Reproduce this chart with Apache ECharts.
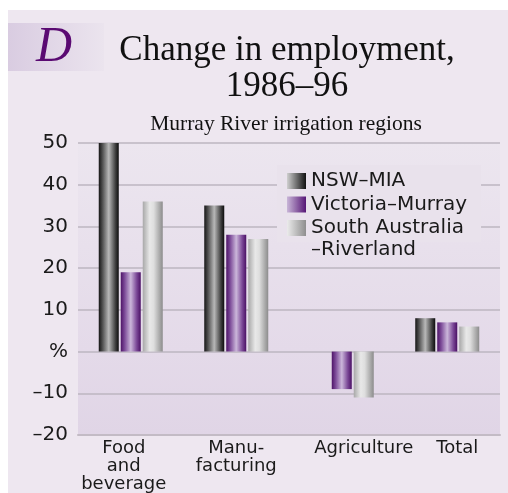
<!DOCTYPE html>
<html>
<head>
<meta charset="utf-8">
<script src="https://cdn.jsdelivr.net/npm/echarts@6/dist/echarts.min.js"></script>
<style>
  body { margin: 0; background: #fff; }
  #wrap { position: relative; width: 508px; height: 493px; }
  #panel { position: absolute; left: 8px; top: 10px; width: 500px; height: 483px; background: #EEE7F0; }
  #myChart { position: absolute; left: 0; top: 0; width: 508px; height: 493px; }
</style>
</head>
<body>
<div id="wrap">
  <div id="panel"></div>
  <div id="myChart"></div>
</div>
<script>
// data
const categories = ["Food\nand\nbeverage", "Manu-\nfacturing", "Agriculture", "Total"];
const nswMia = [50, 35, null, 8];
const victoriaMurray = [19, 28, -9, 7];
const saRiverland = [36, 27, -11, 6];
const seriesNames = ["NSW–MIA", "Victoria–Murray", "South Australia–Riverland"];

// labels in the original are not quite centred under their groups
const labelPadding = [[0, 14, 0, 0], [0, 0, 0, 0], [0, 0, 0, 44], [0, 0, 0, 20]];

const sansFont = "DejaVu Sans";
const serifFont = "Liberation Serif";

function grad(x2, y2, stops) {
  return new echarts.graphic.LinearGradient(0, 0, x2, y2,
    stops.map(function (c) { return { offset: c[0], color: c[1] }; }));
}

// bar fills (rounded cylinder look)
const barFills = [
  grad(1, 0, [[0, "#161616"], [0.15, "#444"], [0.5, "#b8b8b8"], [0.85, "#3a3a3a"], [1, "#0c0c0c"]]),
  grad(1, 0, [[0, "#4e1468"], [0.2, "#7d4c99"], [0.5, "#cbb6da"], [0.8, "#7a4796"], [1, "#4a1064"]]),
  grad(1, 0, [[0, "#a8a8a8"], [0.35, "#e8e8e8"], [0.55, "#dedede"], [1, "#8c8c8c"]])
];
// legend swatches go light to dark
const legendFills = [
  grad(1, 0, [[0, "#cfcfcf"], [1, "#111"]]),
  grad(1, 0, [[0, "#c9b6d8"], [1, "#561676"]]),
  grad(1, 0, [[0, "#ebebeb"], [1, "#8e8e8e"]])
];

let myChart = echarts.init(document.getElementById("myChart"));

myChart.setOption({
  animation: false,
  title: [
    {
      text: "Change in employment,\n1986–96",
      left: 287,
      top: 33,
      padding: 0,
      textAlign: "center",
      textStyle: { fontFamily: serifFont, fontSize: 35, lineHeight: 36, fontWeight: "normal", color: "#111" }
    },
    {
      text: "Murray River irrigation regions",
      left: 286,
      top: 113,
      padding: 0,
      textAlign: "center",
      textStyle: { fontFamily: serifFont, fontSize: 21.5, lineHeight: 22, fontWeight: "normal", color: "#111" }
    },
    {
      text: "D",
      left: 54,
      top: 23,
      padding: 0,
      textAlign: "center",
      textStyle: { fontFamily: serifFont, fontSize: 50, lineHeight: 50, fontStyle: "italic", fontWeight: "normal", color: "#5A0A72" }
    }
  ],
  graphic: [
    {
      type: "rect",
      z: -1,
      shape: { x: 8, y: 23, width: 96, height: 48 },
      style: { fill: grad(1, 0, [[0, "#D9CCE1"], [1, "#EBE4EE"]]) }
    },
    {
      type: "text",
      z: 10,
      style: { x: 311, y: 250, text: "–Riverland", font: "20px " + sansFont, fill: "#1a1a1a", verticalAlign: "middle" }
    }
  ],
  legend: {
    orient: "vertical",
    left: 277,
    top: 165,
    padding: [6, 14, 4, 10],
    itemWidth: 19,
    itemHeight: 16,
    itemGap: 3.5,
    backgroundColor: "#E9E2EC",
    textStyle: { fontFamily: sansFont, fontSize: 20, lineHeight: 20, color: "#1a1a1a" },
    formatter: function (name) {
      return name === seriesNames[2] ? "South Australia" : name;
    },
    data: seriesNames.map(function (n, i) {
      return { name: n, icon: "rect", itemStyle: { color: legendFills[i] } };
    })
  },
  grid: {
    left: 78,
    right: 8,
    top: 143,
    bottom: 58,
    show: true,
    borderWidth: 0,
    backgroundColor: grad(0, 1, [[0, "#ECE6EF"], [0.71, "#E4DAE9"], [1, "#E0D5E6"]])
  },
  xAxis: {
    type: "category",
    data: categories.map(function (c, i) {
      return { value: c, textStyle: { padding: labelPadding[i] } };
    }),
    axisLine: { onZero: false, lineStyle: { color: "#C3BBC5", width: 2 } },
    axisTick: { show: false },
    axisLabel: {
      interval: 0,
      margin: 4,
      fontFamily: sansFont,
      fontSize: 18,
      lineHeight: 18,
      color: "#1a1a1a"
    }
  },
  yAxis: {
    type: "value",
    min: -20,
    max: 50,
    interval: 10,
    axisLine: { show: false },
    axisTick: { show: false },
    axisLabel: {
      margin: 10,
      fontFamily: sansFont,
      fontSize: 20,
      color: "#1a1a1a",
      formatter: function (v) {
        return v === 0 ? "%" : String(v).replace("-", "–");
      }
    },
    splitLine: { lineStyle: { color: "#BDB6C0", width: 1.5 } }
  },
  series: seriesNames.map(function (n, i) {
    return {
      name: n,
      type: "bar",
      data: [nswMia, victoriaMurray, saRiverland][i],
      barWidth: 20,
      barGap: "10%",
      itemStyle: { color: barFills[i] }
    };
  })
});
</script>
</body>
</html>
